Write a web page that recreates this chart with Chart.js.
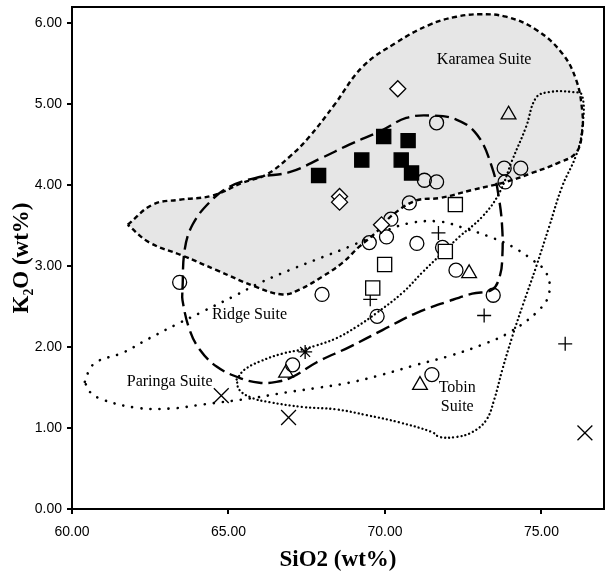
<!DOCTYPE html>
<html>
<head>
<meta charset="utf-8">
<script src="https://cdn.jsdelivr.net/npm/chart.js@4.4.1/dist/chart.umd.min.js"></script>
<style>
  html, body { margin: 0; padding: 0; background: #fff; }
</style>
</head>
<body>
<canvas id="chart" width="606" height="573"></canvas>
<script>
// sample points [SiO2, K2O]
const filledSquares = [[67.88, 4.12], [69.26, 4.31], [69.96, 4.60], [70.74, 4.55], [70.52, 4.31], [70.85, 4.15]];
const openSquares = [[72.25, 3.76], [69.99, 3.02], [71.93, 3.18], [69.61, 2.73]];
const diamonds = [[70.41, 5.19], [68.55, 3.86], [68.55, 3.79], [69.89, 3.51]];
const circles = [
  [71.65, 4.77], [71.26, 4.06], [71.65, 4.04], [73.81, 4.21], [74.34, 4.21], [73.84, 4.04],
  [70.78, 3.78], [70.19, 3.58], [69.50, 3.29], [70.05, 3.36], [71.02, 3.28], [71.84, 3.23],
  [72.27, 2.95], [63.44, 2.80], [67.99, 2.65], [69.75, 2.38], [67.05, 1.78], [71.50, 1.66],
  [73.46, 2.64]
];
const triangles = [[73.95, 4.87], [72.69, 2.91], [66.84, 1.68], [71.12, 1.53]];
const plusses = [[71.71, 3.41], [69.53, 2.59], [73.17, 2.39], [75.76, 2.04]];
const crosses = [[64.77, 1.40], [66.92, 1.13], [76.39, 0.94]];
const asterisks = [[67.45, 1.94]];

// suite outlines [SiO2, K2O]
const karamea = [
  [61.78, 3.51], [62.58, 3.76], [63.44, 3.82], [64.49, 3.87], [65.45, 4.03], [66.21, 4.13],
  [66.95, 4.35], [67.59, 4.60], [68.38, 4.99], [69.28, 5.46], [70.36, 5.76], [71.42, 5.98],
  [72.28, 6.08], [73.01, 6.11], [73.87, 6.08], [74.83, 5.92], [75.66, 5.63], [76.11, 5.30],
  [76.30, 4.93], [76.30, 4.65], [76.11, 4.40], [75.57, 4.28], [74.70, 4.15], [73.87, 4.04],
  [72.79, 3.94], [71.74, 3.84], [71.00, 3.81], [70.24, 3.63], [69.73, 3.42], [69.18, 3.24],
  [68.64, 3.04], [68.00, 2.87], [67.27, 2.71], [66.73, 2.65], [65.90, 2.74], [64.62, 2.95],
  [63.53, 3.13], [62.48, 3.29], [61.78, 3.51]
];
const ridge = [
  [63.53, 2.71], [63.60, 3.20], [63.85, 3.51], [64.40, 3.79], [65.03, 3.98], [65.99, 4.10],
  [66.95, 4.16], [68.00, 4.34], [68.86, 4.50], [69.92, 4.68], [70.68, 4.83], [71.42, 4.86],
  [72.28, 4.81], [72.95, 4.62], [73.43, 4.21], [73.65, 3.82], [73.75, 3.45], [73.75, 3.11],
  [73.68, 2.89], [73.43, 2.71], [72.79, 2.66], [72.06, 2.57], [71.00, 2.42], [69.92, 2.21],
  [68.86, 2.00], [67.81, 1.81], [67.04, 1.63], [66.53, 1.57], [65.99, 1.56], [65.35, 1.62],
  [64.62, 1.76], [64.08, 1.97], [63.76, 2.21], [63.53, 2.58], [63.53, 2.71]
];
const paringa = [
  [60.41, 1.57], [60.56, 1.72], [60.79, 1.82], [61.62, 1.93], [62.48, 2.11], [63.34, 2.28],
  [64.08, 2.42], [65.13, 2.62], [65.99, 2.79], [66.95, 2.95], [68.00, 3.11], [68.86, 3.24],
  [69.92, 3.42], [70.78, 3.53], [71.74, 3.55], [72.60, 3.46], [73.43, 3.35], [74.07, 3.24],
  [74.70, 3.08], [75.15, 2.92], [75.25, 2.67], [74.93, 2.46], [73.97, 2.18], [73.11, 2.03],
  [72.06, 1.89], [71.00, 1.78], [69.92, 1.66], [68.86, 1.56], [67.91, 1.50], [66.85, 1.44],
  [65.77, 1.37], [64.17, 1.29], [63.12, 1.24], [62.07, 1.25], [60.98, 1.35], [60.56, 1.45],
  [60.41, 1.57]
];
const tobin = [
  [65.26, 1.60], [65.51, 1.72], [65.99, 1.82], [66.73, 1.92], [67.36, 1.97], [67.81, 2.02],
  [68.45, 2.11], [69.09, 2.25], [69.73, 2.42], [70.56, 2.67], [71.19, 2.92], [71.83, 3.16],
  [72.37, 3.36], [73.11, 3.61], [73.65, 3.90], [74.07, 4.31], [74.51, 4.72], [74.83, 5.08],
  [75.25, 5.15], [75.98, 5.15], [76.30, 5.11], [76.30, 4.68], [76.11, 4.37], [75.66, 3.98],
  [75.25, 3.49], [74.83, 2.99], [74.39, 2.50], [74.07, 2.13], [73.75, 1.72], [73.49, 1.35],
  [73.24, 1.10], [72.79, 0.95], [72.28, 0.89], [71.74, 0.89], [71.51, 0.95], [70.46, 1.07],
  [69.41, 1.16], [68.45, 1.23], [67.36, 1.26], [66.31, 1.32], [65.77, 1.37], [65.35, 1.47],
  [65.26, 1.60]
];

// suite names and where they sit
const suiteNames = ["Karamea Suite", "Ridge Suite", "Paringa Suite", "Tobin", "Suite"];
const suiteNameX = [73.17, 65.67, 63.12, 72.31, 72.31];
const suiteNameY = [5.55, 2.40, 1.57, 1.50, 1.26];

const toXY = (arr) => arr.map(([x, y]) => ({ x: x, y: y }));

function outline(data, dash, cap, width, order, fill) {
  return {
    data: toXY(data),
    showLine: true,
    pointRadius: 0,
    borderColor: "#000",
    borderWidth: width,
    borderDash: dash,
    borderCapStyle: cap,
    tension: 0.4,
    fill: fill ? "shape" : false,
    backgroundColor: "#e6e6e6",
    order: order,
  };
}

function markers(data, style, radius, bg) {
  return {
    data: toXY(data),
    showLine: false,
    pointStyle: style,
    pointRadius: radius,
    pointBorderColor: "#000",
    pointBackgroundColor: bg,
    pointBorderWidth: 1.3,
    order: 1,
  };
}

const datasets = [
  outline(karamea, [5, 3.5], "butt", 2.4, 20, true),
  outline(ridge, [14, 6], "butt", 2.4, 10, false),
  outline(paringa, [0.1, 9], "round", 2.6, 10, false),
  outline(tobin, [0.1, 4], "round", 2.3, 10, false),
  markers(filledSquares, "rect", 10, "#000"),
  markers(openSquares, "rect", 10, "#fff"),
  markers(diamonds, "rectRot", 8, "#fff"),
  markers(circles, "circle", 7, "rgba(0,0,0,0)"),
  markers(triangles, "triangle", 8.5, "rgba(0,0,0,0)"),
  markers(plusses, "cross", 7, "rgba(0,0,0,0)"),
  markers(crosses, "crossRot", 10.5, "rgba(0,0,0,0)"),
  markers(asterisks, "star", 7, "rgba(0,0,0,0)"),
];

// frame round the plot and the suite names
const framePlugin = {
  id: "frame",
  afterDatasetsDraw(chart) {
    const { ctx, chartArea: a, scales } = chart;
    ctx.save();
    ctx.fillStyle = "#000";
    ctx.font = "16px 'Liberation Serif'";
    ctx.textAlign = "center";
    ctx.textBaseline = "middle";
    suiteNames.forEach((t, i) => {
      ctx.fillText(t, scales.x.getPixelForValue(suiteNameX[i]), scales.y.getPixelForValue(suiteNameY[i]));
    });
    ctx.strokeStyle = "#000";
    ctx.lineWidth = 2;
    ctx.strokeRect(a.left, a.top, a.right - a.left, a.bottom - a.top);
    ctx.restore();
  },
};

const tickFont = { family: "'Liberation Sans'", size: 14 };
const titleFont = { family: "'Liberation Serif'", size: 23, weight: "bold", lineHeight: 1 };

new Chart(document.getElementById("chart").getContext("2d"), {
  type: "line",
  data: { datasets: datasets },
  options: {
    responsive: false,
    animation: false,
    layout: { autoPadding: false, padding: { top: 7, right: 2, left: 0, bottom: 0 } },
    plugins: { legend: { display: false }, tooltip: { enabled: false } },
    scales: {
      x: {
        type: "linear",
        min: 60,
        max: 77,
        ticks: {
          stepSize: 5,
          includeBounds: false,
          color: "#000",
          font: tickFont,
          padding: 10,
          callback: (v) => v.toFixed(2),
        },
        grid: { drawOnChartArea: false, drawTicks: true, tickLength: 5, color: "#000", lineWidth: 2 },
        border: { color: "#000", width: 2 },
        title: { display: true, text: "SiO2 (wt%)", color: "#000", font: titleFont, padding: { top: 0, bottom: 1 } },
        afterFit: (s) => { s.height = 64; s.paddingLeft = 0; s.paddingRight = 0; },
      },
      y: {
        type: "linear",
        min: 0,
        max: 6.2,
        ticks: {
          stepSize: 1,
          includeBounds: false,
          color: "#000",
          font: tickFont,
          padding: 5,
          callback: (v) => v.toFixed(2),
        },
        grid: { drawOnChartArea: false, drawTicks: true, tickLength: 5, color: "#000", lineWidth: 2 },
        border: { color: "#000", width: 2 },
        title: { display: true, text: "K₂O (wt%)", color: "#000", font: titleFont, padding: { top: 11, bottom: 0 } },
        afterFit: (s) => { s.width = 72; s.paddingTop = 0; s.paddingBottom = 0; },
      },
    },
  },
  plugins: [framePlugin],
});
</script>
</body>
</html>
